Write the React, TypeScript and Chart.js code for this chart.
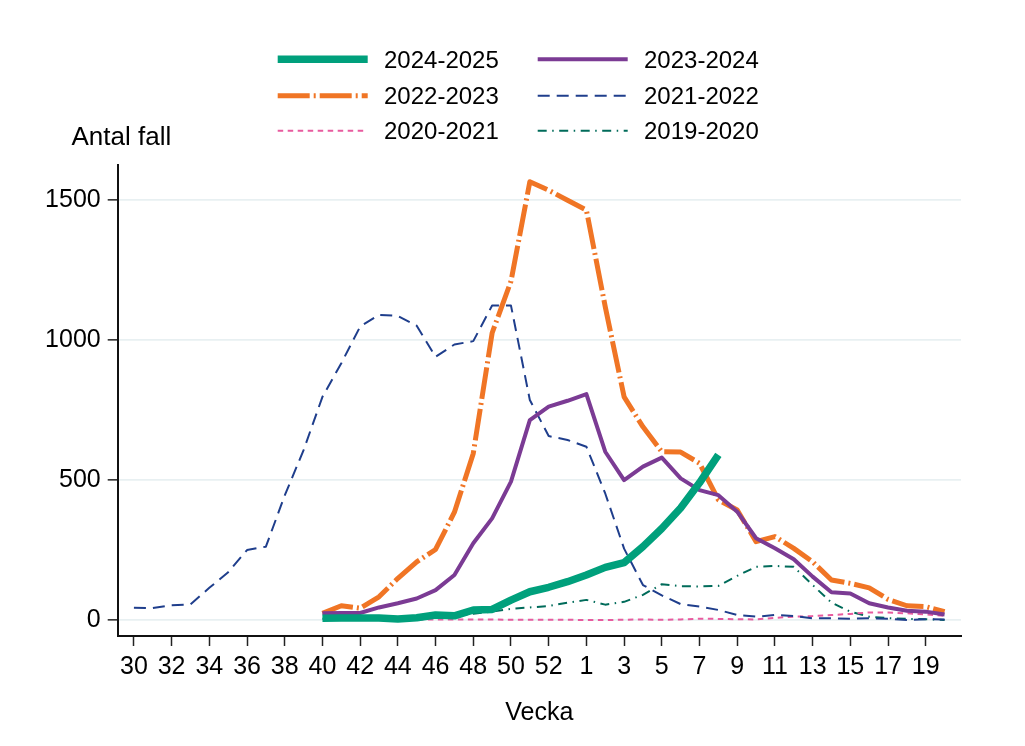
import { useEffect, useRef } from "react";
import { Chart, registerables } from "chart.js";

Chart.register(...registerables);

const N = null;

// Category axis: season weeks 30..53 then 1..20
const weeks: number[] = [
  30, 31, 32, 33, 34, 35, 36, 37, 38, 39, 40, 41, 42, 43, 44, 45, 46, 47, 48, 49, 50, 51, 52, 53,
  1, 2, 3, 4, 5, 6, 7, 8, 9, 10, 11, 12, 13, 14, 15, 16, 17, 18, 19, 20,
];

const yTickValues = [0, 500, 1000, 1500];

const seasonLabels = ["2024-2025", "2023-2024", "2022-2023", "2021-2022", "2020-2021", "2019-2020"];

const s2024_2025: (number | null)[] = [
  N, N, N, N, N, N, N, N, N, N,
  6, 7, 7, 7, 4, 8, 18, 15, 36, 38, 71, 101, 117, 137,
  161, 188, 205, 262, 327, 400, 490, 590,
  N, N, N, N, N, N, N, N, N, N, N, N,
];

const s2023_2024: (number | null)[] = [
  N, N, N, N, N, N, N, N, N, N,
  24, 25, 25, 45, 60, 77, 107, 161, 274, 363, 494, 714, 762, 783,
  807, 601, 500, 548, 580, 506, 464, 446, 387, 292, 256, 217, 155, 99, 95, 60, 45, 33, 30, 20,
];

const s2022_2023: (number | null)[] = [
  N, N, N, N, N, N, N, N, N, N,
  24, 51, 42, 83, 149, 208, 252, 385, 595, 1025, 1210, 1565, 1535, 1499,
  1464, 1119, 797, 690, 601, 600, 560, 429, 393, 280, 298, 256, 208, 143, 131, 115, 74, 51, 48, 30,
];

const s2021_2022: (number | null)[] = [
  44, 43, 53, 56, 115, 171, 250, 262, 445, 607,
  797, 917, 1048, 1090, 1086, 1051, 940, 984, 996, 1123, 1123, 786, 657, 643,
  619, 452, 255, 125, 88, 57, 48, 36, 18, 12, 18, 14, 6, 6, 5, 6, 5, 0, 3, 2,
];

const s2020_2021: (number | null)[] = [
  N, N, N, N, N, N, N, N, N, N, N, N, N, N,
  2, 2, 2, 2, 2, 2, 1, 1, 1, 1,
  0, 0, 1, 2, 1, 2, 5, 4, 3, 2, 8, 12, 14, 18, 22, 27, 27, 24, 20, 15,
];

const s2019_2020: (number | null)[] = [
  N, N, N, N, N, N, N, N, N, N,
  5, 6, 8, 8, 10, 12, 14, 15, 22, 30, 40, 45, 50, 62,
  72, 55, 65, 90, 128, 121, 120, 122, 158, 190, 193, 190, 125, 62, 30, 12, 7, 4, 3, 0,
];

const seriesValues = [s2024_2025, s2023_2024, s2022_2023, s2021_2022, s2020_2021, s2019_2020];

const seriesStyles = [
  { color: "#00a07c", width: 7.5, dash: [] as number[] },
  { color: "#7b3b94", width: 4, dash: [] as number[] },
  { color: "#f07525", width: 5, dash: [32, 4, 2, 4] },
  { color: "#1f3e8c", width: 2, dash: [12, 7] },
  { color: "#e85b9f", width: 2, dash: [5.5, 4.5] },
  { color: "#006b5a", width: 2, dash: [9, 5.5, 1.5, 5.5] },
];

const FONT = "'Liberation Sans', Arial, sans-serif";

const legendPlugin = {
  id: "gridLegend",
  afterDraw(chart: any) {
    const ctx: CanvasRenderingContext2D = chart.ctx;
    const colX = [277.7, 537.7];
    const rowY = [59.3, 95.7, 130.7];
    const lineLen = 90;
    ctx.save();
    chart.data.datasets.forEach((ds: any, i: number) => {
      const x = colX[i % 2];
      const y = rowY[Math.floor(i / 2)];
      ctx.beginPath();
      ctx.setLineDash(ds.borderDash || []);
      ctx.lineWidth = ds.borderWidth;
      ctx.strokeStyle = ds.borderColor;
      ctx.lineCap = "butt";
      ctx.moveTo(x, y);
      ctx.lineTo(x + lineLen, y);
      ctx.stroke();
      ctx.setLineDash([]);
      ctx.fillStyle = "#000";
      ctx.font = `24px ${FONT}`;
      ctx.textBaseline = "middle";
      ctx.textAlign = "left";
      ctx.fillText(ds.label, x + lineLen + 16.3, y + 2);
    });
    ctx.fillStyle = "#000";
    ctx.font = `26px ${FONT}`;
    ctx.textBaseline = "middle";
    ctx.textAlign = "left";
    ctx.fillText("Antal fall", 71.5, 138);
    ctx.restore();
  },
};

export default function App() {
  const canvasRef = useRef<HTMLCanvasElement | null>(null);

  useEffect(() => {
    if (!canvasRef.current) return;
    const datasets = seriesValues.map((vals, si) => ({
      label: seasonLabels[si],
      data: vals
        .map((v, i) => (v === null ? null : { x: i, y: v }))
        .filter((p) => p !== null) as { x: number; y: number }[],
      borderColor: seriesStyles[si].color,
      backgroundColor: seriesStyles[si].color,
      borderWidth: seriesStyles[si].width,
      borderDash: seriesStyles[si].dash,
      borderCapStyle: "butt" as const,
      borderJoinStyle: "round" as const,
      pointRadius: 0,
      pointHoverRadius: 0,
      tension: 0,
      fill: false,
    }));

    const chart = new Chart(canvasRef.current, {
      type: "line",
      data: { datasets },
      plugins: [legendPlugin],
      options: {
        animation: false,
        responsive: true,
        maintainAspectRatio: false,
        layout: { padding: { top: 165, right: 64, left: 0, bottom: 0 } },
        plugins: {
          legend: { display: false },
          tooltip: { enabled: false },
          title: { display: false },
        },
        scales: {
          x: {
            type: "linear",
            min: -0.86,
            max: 43.87,
            afterBuildTicks: (scale: any) => {
              const t: { value: number }[] = [];
              for (let i = 0; i < weeks.length; i += 2) t.push({ value: i });
              scale.ticks = t;
            },
            afterFit: (scale: any) => {
              scale.height = 110;
            },
            ticks: {
              autoSkip: false,
              maxRotation: 0,
              padding: 6,
              color: "#000",
              font: { family: FONT, size: 25 },
              callback: (value: any) => String(weeks[Math.round(Number(value))]),
            },
            grid: {
              display: true,
              drawOnChartArea: false,
              drawTicks: true,
              tickLength: 10,
              tickColor: "#222",
              tickWidth: 1.5,
            },
            border: { display: true, color: "#111", width: 2 },
            title: {
              display: true,
              text: "Vecka",
              color: "#000",
              font: { family: FONT, size: 25 },
              padding: { top: 4, bottom: 18 },
            },
          },
          y: {
            type: "linear",
            min: -57,
            max: 1625,
            afterBuildTicks: (scale: any) => {
              scale.ticks = yTickValues.map((v) => ({ value: v }));
            },
            afterFit: (scale: any) => {
              scale.width = 117.7;
            },
            ticks: {
              padding: 7,
              color: "#000",
              font: { family: FONT, size: 25 },
              callback: (value: any) => String(value),
            },
            grid: {
              display: true,
              drawOnChartArea: true,
              drawTicks: true,
              tickLength: 10,
              color: "#e8f0f2",
              lineWidth: 1.7,
              tickColor: "#222",
              tickWidth: 1.5,
            },
            border: { display: true, color: "#111", width: 2 },
          },
        },
      },
    });
    return () => chart.destroy();
  }, []);

  return (
    <div style={{ position: "fixed", left: 0, top: 0, width: 1025, height: 746, background: "#fff" }}>
      <canvas ref={canvasRef} />
    </div>
  );
}
